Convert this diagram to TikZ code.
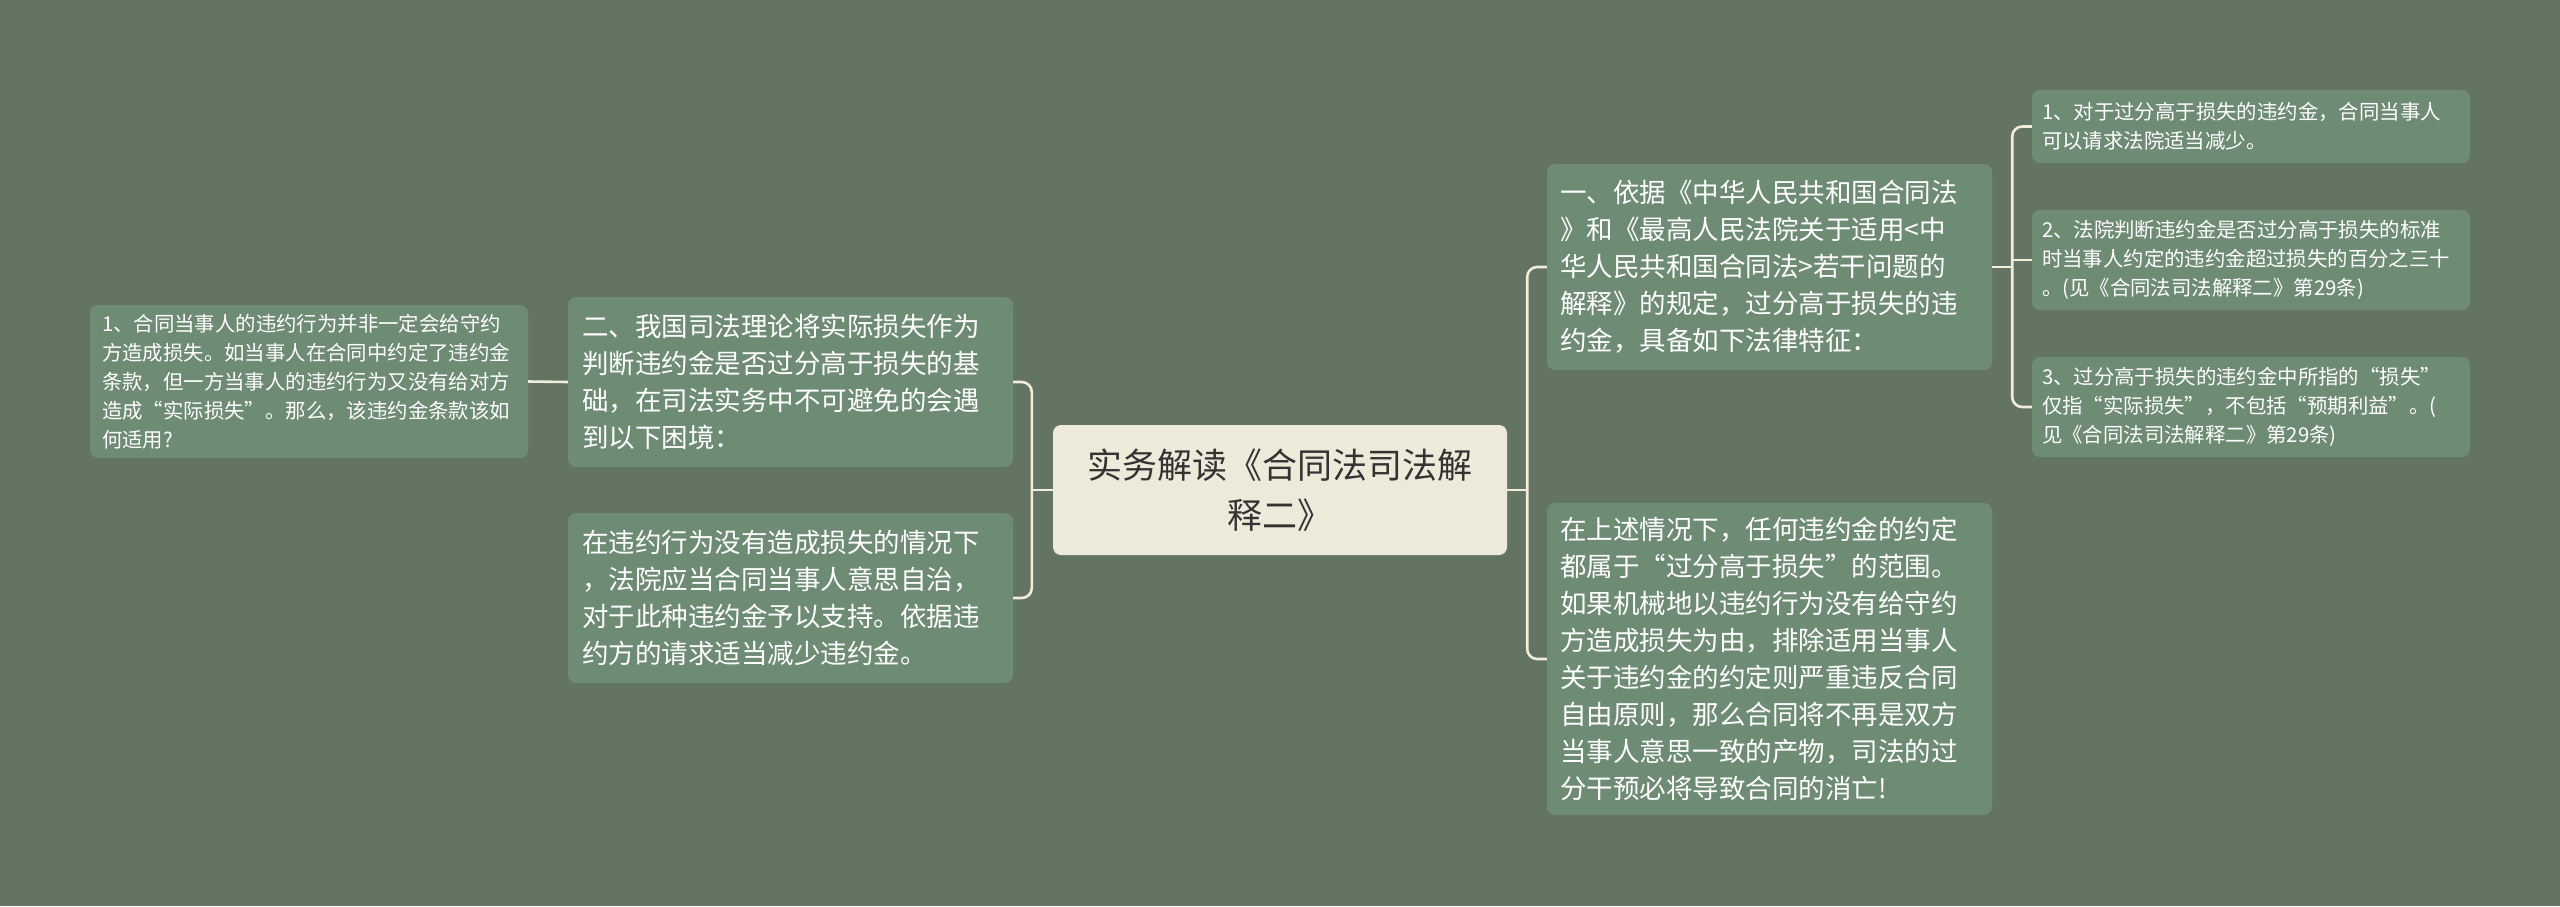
\documentclass[tikz,border=0pt]{standalone}
\usepackage{fontspec}
\setmainfont{Noto Sans CJK SC}
\definecolor{bg}{HTML}{637562}
\definecolor{boxfill}{HTML}{6E8B74}
\definecolor{rootfill}{HTML}{EEEADA}
\definecolor{linec}{HTML}{F1EDDA}
\definecolor{roottext}{HTML}{333333}
\tikzset{
  card/.style={fill=boxfill, rounded corners=8pt, text=white, align=left, inner ysep=0pt, anchor=center},
  body/.style={card, font=\fontsize{26.5}{37}\selectfont, inner xsep=14pt},
  small/.style={card, font=\fontsize{20.4}{29}\selectfont, inner xsep=10pt},
  rootbox/.style={fill=rootfill, rounded corners=8pt, text=roottext, align=center, inner xsep=17pt, inner ysep=0pt, font=\fontsize{35}{50}\selectfont},
  conn/.style={draw=linec, line width=2.6pt, rounded corners=10pt},
}
\begin{document}
\begin{tikzpicture}[x=1pt,y=-1pt]
\fill[bg] (0,0) rectangle (2560,906);
\useasboundingbox (0,0) rectangle (2560,906);

\node[rootbox, text width=420pt, minimum height=130pt] (root) at (1280,490) {实务解读《合同法司法解\\释二》};

\node[body, text width=417pt, minimum height=170pt] (b2) at (790.5,382) {二、我国司法理论将实际损失作为\\判断违约金是否过分高于损失的基\\础，在司法实务中不可避免的会遇\\到以下困境：};

\node[body, text width=417pt, minimum height=170pt] (b3) at (790.5,598) {在违约行为没有造成损失的情况下\\，法院应当合同当事人意思自治，\\对于此种违约金予以支持。依据违\\约方的请求适当减少违约金。};

\node[small, inner xsep=12pt, text width=414pt, minimum height=153pt] (lb) at (309,381.5) {1、合同当事人的违约行为并非一定会给守约\\方造成损失。如当事人在合同中约定了违约金\\条款，但一方当事人的违约行为又没有给对方\\造成“实际损失”。那么，该违约金条款该如\\何适用?};

\node[body, inner xsep=13pt, text width=419pt, minimum height=206pt] (r1) at (1769.5,267) {一、依据《中华人民共和国合同法\\》和《最高人民法院关于适用<中\\华人民共和国合同法>若干问题的\\解释》的规定，过分高于损失的违\\约金，具备如下法律特征：};

\node[body, inner xsep=13pt, text width=419pt, minimum height=312pt] (r2) at (1769.5,659) {在上述情况下，任何违约金的约定\\都属于“过分高于损失”的范围。\\如果机械地以违约行为没有给守约\\方造成损失为由，排除适用当事人\\关于违约金的约定则严重违反合同\\自由原则，那么合同将不再是双方\\当事人意思一致的产物，司法的过\\分干预必将导致合同的消亡!};

\node[small, text width=418pt, minimum height=73pt] (s1) at (2251,126.5) {1、对于过分高于损失的违约金，合同当事人\\可以请求法院适当减少。};

\node[small, text width=418pt, minimum height=100pt] (s2) at (2251,260) {2、法院判断违约金是否过分高于损失的标准\\时当事人约定的违约金超过损失的百分之三十\\。(见《合同法司法解释二》第29条)};

\node[small, text width=418pt, minimum height=100pt] (s3) at (2251,407) {3、过分高于损失的违约金中所指的“损失”\\仅指“实际损失”，不包括“预期利益”。(\\见《合同法司法解释二》第29条)};

\coordinate (jl) at ([xshift=-21pt]root.west);
\coordinate (jr) at ([xshift=20pt]root.east);
\coordinate (jr2) at ([xshift=20pt]r1.east);

\draw[conn] (root.west) -- (jl);
\draw[conn] (jl) |- (b2.east);
\draw[conn] (jl) |- (b3.east);
\draw[conn] (b2.west) -- (lb.east);

\draw[conn] (root.east) -- (jr);
\draw[conn] (jr) |- (r1.west);
\draw[conn] (jr) |- (r2.west);

\draw[conn] (r1.east) -- (jr2);
\draw[conn] (jr2) |- (s1.west);
\draw[conn] (jr2) |- (s3.west);
\draw[conn] (jr2 |- s2.west) -- (s2.west);
\end{tikzpicture}
\end{document}
